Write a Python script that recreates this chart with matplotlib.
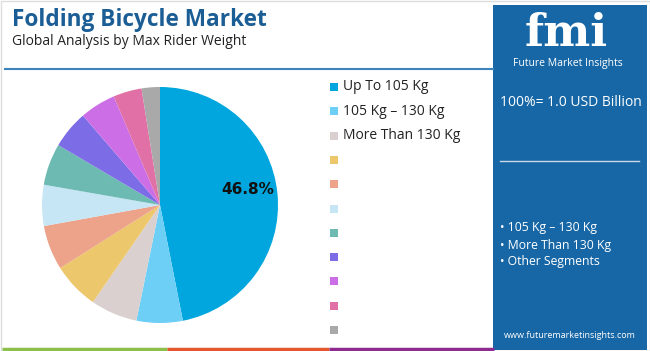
import matplotlib.pyplot as plt
from matplotlib.patches import Rectangle
from matplotlib.lines import Line2D

# segment shares (%), clockwise from 12 o'clock
segments = ["Up To 105 Kg", "105 Kg \u2013 130 Kg", "More Than 130 Kg",
            "", "", "", "", "", "", "", ""]
shares = [46.8, 6.3, 6.4, 6.4, 6.1, 5.6, 5.7, 5.2, 4.9, 3.9, 2.5]
colors = ["#00a6dd", "#6dcff5", "#d9d0cf", "#ecc76b", "#eca38a", "#c6e6f5",
          "#6dbab3", "#7c6ce6", "#cc6fe6", "#e170a6", "#a9a9a9"]
panel_bullets = ["\u2022 105 Kg \u2013 130 Kg", "\u2022 More Than 130 Kg", "\u2022 Other Segments"]

W, H = 650, 351
plt.rcParams['font.family'] = ['Open Sans', 'DejaVu Sans']

fig = plt.figure(figsize=(W / 100, H / 100), dpi=100)
fig.patch.set_facecolor("white")


def px(x, y):
    # pixel coords (from top-left) -> figure fraction
    return x / W, 1 - y / H


# light frame round the image
fig.patches.append(Rectangle((0.5 / W, 0.5 / H), 1 - 1 / W, 1 - 1 / H, transform=fig.transFigure,
                             fill=False, edgecolor="#dddddd", linewidth=1))

# title block
fig.text(*px(12, 26), "Folding Bicycle Market", fontsize=16.3, fontweight="bold",
         color="#1b5e95", va="baseline")
fig.text(*px(12, 45), "Global Analysis by Max Rider Weight", fontsize=10,
         color="#222222", va="baseline")
fig.add_artist(Line2D([5 / W, 493 / W], [1 - 69 / H] * 2, transform=fig.transFigure,
                      color="#3d83bb", linewidth=1.5))

# pie
ax = fig.add_axes([42 / W, 28 / H, 236 / W, 236 / H])
wedges, _ = ax.pie(shares, colors=colors, startangle=90, counterclock=False,
                   wedgeprops=dict(linewidth=0))
ax.set_xlim(-1, 1)
ax.set_ylim(-1, 1)
ax.set_aspect("equal")
ax.text(0.74, 0.13, f"{shares[0]}%", fontsize=11, fontweight="bold", color="#111111",
        ha="center", va="center", family="DejaVu Sans")

# legend
for i, (lab, col) in enumerate(zip(segments, colors)):
    y = 87 + i * 24.3
    fig.patches.append(Rectangle(px(330, y + 4), 8 / W, 8 / H, transform=fig.transFigure,
                                 facecolor=col, edgecolor="none"))
    if lab:
        fig.text(*px(343, y), lab, fontsize=10, color="#222222", va="center")

# bottom colour strip
for x0, x1, c in [(2, 167, "#8dc04b"), (167, 329, "#e4572e"), (329, 494, "#8e2b8e")]:
    fig.add_artist(Line2D([x0 / W, x1 / W], [1 - 348.5 / H] * 2, transform=fig.transFigure,
                          color=c, linewidth=2.5, solid_capstyle="butt"))

# right panel
fig.patches.append(Rectangle(px(493, 350), 154 / W, 345 / H, transform=fig.transFigure,
                             facecolor="#1767a6", edgecolor="none"))
fig.text(*px(566, 46), "fmi", fontsize=32, fontweight="bold", color="white",
         ha="center", va="baseline", family="DejaVu Serif")
fig.text(*px(568, 66), "Future Market Insights", fontsize=7.5, color="white",
         ha="center", va="baseline")
fig.text(*px(571, 102), "100%= 1.0 USD Billion", fontsize=10, color="white",
         ha="center", va="center")
fig.add_artist(Line2D([500 / W, 639 / W], [1 - 161 / H] * 2, transform=fig.transFigure,
                      color="#c9d8e6", linewidth=1))
for i, b in enumerate(panel_bullets):
    fig.text(*px(500, 228 + i * 17), b, fontsize=8.8, color="white", va="center")
fig.text(*px(570, 335), "www.futuremarketinsights.com", fontsize=6.5, color="white",
         ha="center", va="center")

fig.savefig("out.png", dpi=100, facecolor="white")
